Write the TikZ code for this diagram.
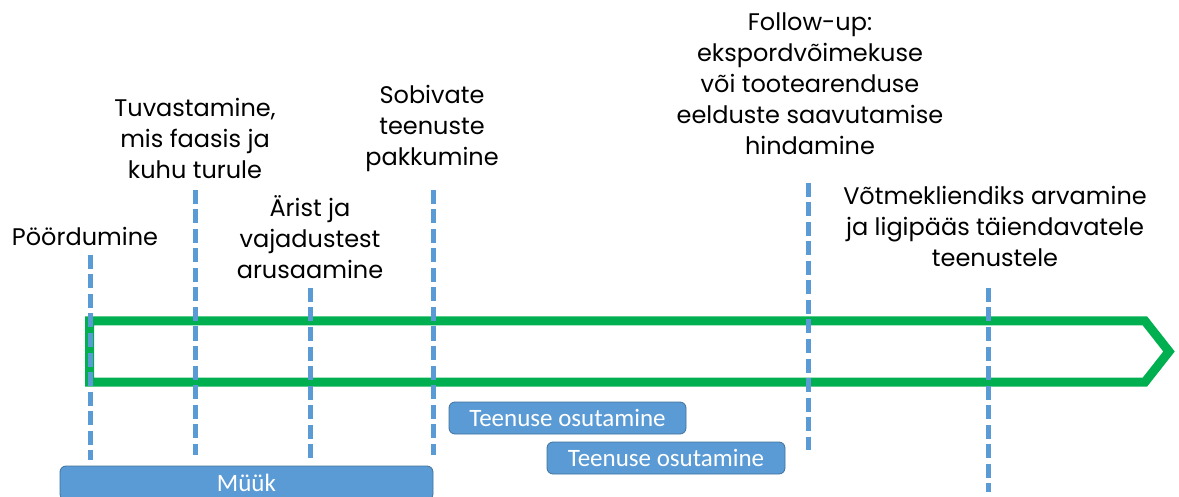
\documentclass[tikz,border=0pt]{standalone}
\usepackage{fontspec}
\setmainfont{Poppins}
\newfontfamily\boxfont{Carlito}
\definecolor{phasegreen}{RGB}{0,176,80}
\definecolor{stepblue}{RGB}{91,155,213}
\definecolor{stepedge}{RGB}{65,113,156}
\begin{document}
\begin{tikzpicture}[x=1pt,y=-1pt]
\tikzstyle{every node}+=[inner sep=0pt]
\tikzstyle{phase}=[align=center,font=\fontsize{24}{31}\selectfont]
\tikzstyle{markline}=[stepblue,line width=5pt,dash pattern=on 14pt off 5.5pt]
\tikzstyle{service}=[fill=stepblue,draw=stepedge,line width=0.8pt,rounded corners=6pt,text=white,font=\boxfont\fontsize{25}{25}\selectfont]
\useasboundingbox (0,0) rectangle (1179,497);
\clip (0,0) rectangle (1179,497);
% green process arrow
\draw [phasegreen,line width=9pt] (89.5,321) -- (1145,321) -- (1169,351.5) -- (1145,382) -- (89.5,382) -- cycle;
% phase labels
\node [phase] (contact) at (85,236) {Pöördumine};
\node [phase] (detect) at (195,138) {Tuvastamine,\\mis faasis ja\\kuhu turule};
\node [phase] (understand) at (310,237) {Ärist ja\\vajadustest\\arusaamine};
\node [phase] (offer) at (432,128) {Sobivate\\teenuste\\pakkumine};
\node [phase] (followup) at (810,84) {Follow-up:\\ekspordvõimekuse\\või tootearenduse\\eelduste saavutamise\\hindamine};
\node [phase] (keyclient) at (995,226) {Võtmekliendiks arvamine\\ja ligipääs täiendavatele\\teenustele};
% marker lines
\coordinate (m1a) at (90,255);  \coordinate (m1b) at (90,460);
\coordinate (m2a) at (195,190); \coordinate (m2b) at (195,455);
\coordinate (m3a) at (310,288); \coordinate (m3b) at (310,460);
\coordinate (m4a) at (433,190); \coordinate (m4b) at (433,455);
\coordinate (m5a) at (808,183); \coordinate (m5b) at (808,450);
\coordinate (m6a) at (988,288); \coordinate (m6b) at (988,492);
\foreach \i in {1,...,6}
  \draw [markline] (m\i a) -- (m\i b);
% service bars
\node [service,minimum width=237pt,minimum height=32pt] (serv1) at (567.5,418) {Teenuse osutamine};
\node [service,minimum width=238pt,minimum height=32pt] (serv2) at (666,458) {Teenuse osutamine};
\node [service,minimum width=373pt,minimum height=34pt] (sales) at (246.5,483) {Müük};
\end{tikzpicture}
\end{document}
